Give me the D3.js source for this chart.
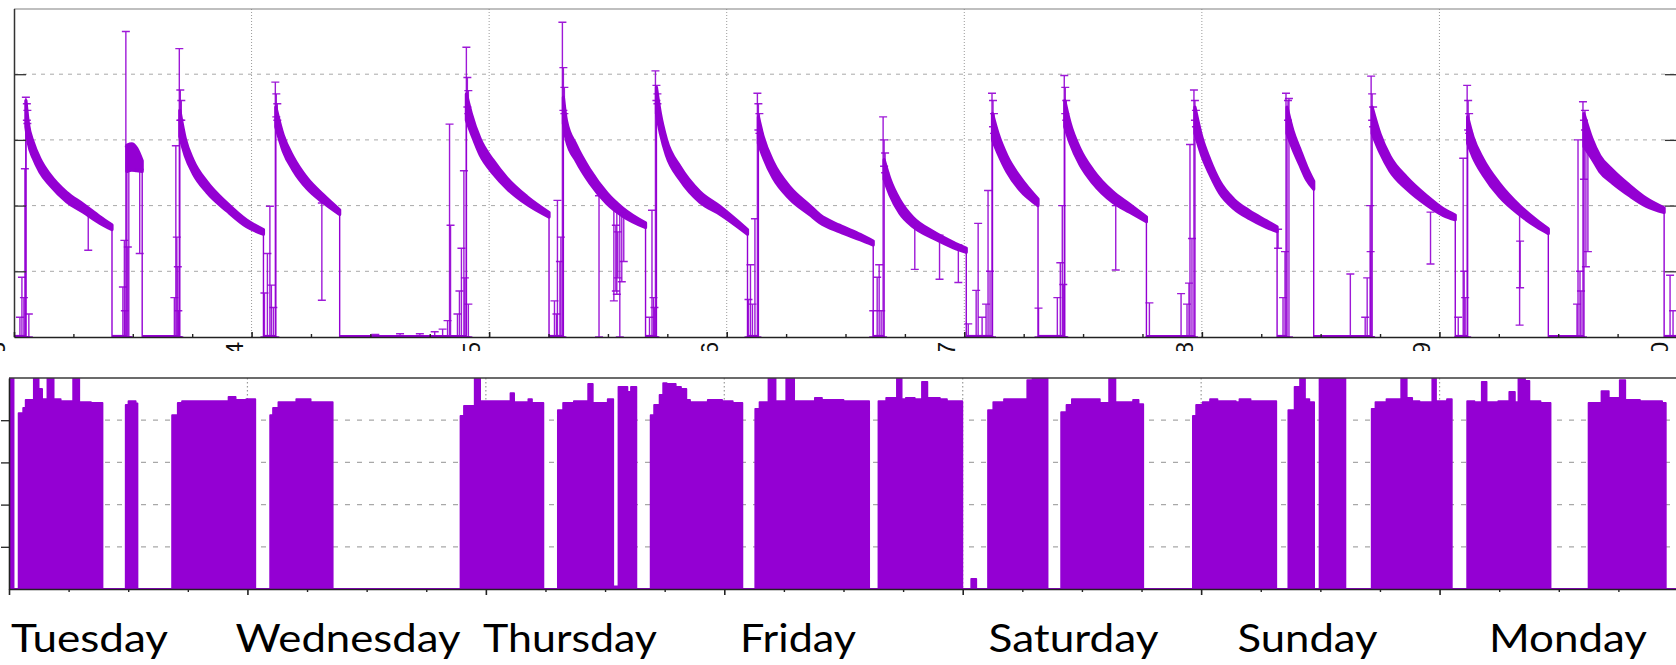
<!DOCTYPE html>
<html><head><meta charset="utf-8">
<script src="https://cdn.jsdelivr.net/npm/d3@7/dist/d3.min.js"></script>
<style>body{margin:0;background:#fff;overflow:hidden;} svg{display:block;}</style>
</head><body>
<svg id="c" width="1676" height="665"></svg>
<script>
// ---------------- DATA ----------------
// x tick labels (day of month) at each midnight, hours 0..168
const dayTickLabels = ["13","14","15","16","17","18","19","20"];
const dayNames = ["Tuesday","Wednesday","Thursday","Friday","Saturday","Sunday","Monday"];

// Top panel: decay curves, each point [hour, value, error]
const decayCurves = [
  [[1.2,3.4,0.2],[1.45,3.1,0.15],[1.95,2.84,0.12],[2.63,2.61,0.1],[3.64,2.39,0.08],[5.32,2.13,0.07],[7.0,1.96,0.06],[8.69,1.78,0.05],[9.9,1.67,0.035]],
  [[11.4,2.72,0.2],[11.9,2.74,0.2],[12.4,2.7,0.17],[12.95,2.6,0.08]],
  [[16.75,3.25,0.2],[17.3,2.89,0.13],[18.1,2.59,0.1],[19.5,2.28,0.08],[21.5,1.98,0.06],[23.5,1.73,0.05],[25.2,1.6,0.035]],
  [[26.45,3.35,0.15],[27.2,2.95,0.12],[28.2,2.64,0.1],[29.6,2.34,0.08],[31.2,2.11,0.06],[32.9,1.9,0.035]],
  [[45.7,3.5,0.2],[46.2,3.25,0.15],[47.1,2.89,0.12],[48.4,2.59,0.1],[49.8,2.34,0.08],[51.8,2.08,0.06],[54.05,1.86,0.035]],
  [[55.5,3.45,0.2],[55.8,3.15,0.15],[56.8,2.8,0.12],[58.2,2.44,0.1],[59.9,2.11,0.08],[61.5,1.9,0.06],[63.8,1.7,0.035]],
  [[64.9,3.6,0.2],[65.3,3.25,0.15],[65.9,2.89,0.12],[67.3,2.49,0.1],[69.3,2.13,0.08],[71.3,1.93,0.06],[74.1,1.6,0.035]],
  [[75.2,3.15,0.2],[75.7,2.89,0.15],[76.7,2.54,0.12],[78.4,2.19,0.09],[80.4,1.93,0.07],[81.4,1.8,0.06],[83.4,1.65,0.05],[85.5,1.52,0.04],[86.8,1.43,0.03]],
  [[87.9,2.55,0.15],[88.5,2.28,0.12],[89.5,1.98,0.1],[90.8,1.75,0.07],[92.9,1.55,0.05],[94.9,1.4,0.04],[96.2,1.32,0.03]],
  [[98.85,3.2,0.2],[99.4,2.95,0.15],[100.3,2.64,0.12],[101.6,2.34,0.1],[103.45,2.05,0.05]],
  [[106.15,3.4,0.2],[106.7,3.1,0.15],[107.7,2.74,0.12],[109.0,2.44,0.1],[111.0,2.13,0.08],[112.7,1.96,0.06],[114.4,1.79,0.035]],
  [[119.3,3.3,0.2],[120.0,2.9,0.14],[120.8,2.59,0.11],[121.8,2.28,0.09],[123.2,2.03,0.07],[124.8,1.86,0.06],[126.5,1.72,0.05],[127.6,1.64,0.035]],
  [[128.6,3.3,0.2],[129.2,3.0,0.14],[129.9,2.74,0.12],[130.6,2.49,0.1],[131.3,2.31,0.06]],
  [[137.2,3.3,0.2],[138.0,2.95,0.14],[139.0,2.64,0.11],[140.7,2.34,0.09],[142.7,2.08,0.07],[144.4,1.9,0.05],[145.6,1.82,0.035]],
  [[146.85,3.15,0.2],[147.4,2.89,0.15],[148.4,2.59,0.12],[150.1,2.23,0.1],[152.1,1.93,0.07],[153.8,1.73,0.05],[155.0,1.61,0.035]],
  [[158.6,3.15,0.25],[159.4,2.87,0.15],[160.2,2.64,0.12],[161.5,2.44,0.1],[163.2,2.23,0.08],[164.9,2.05,0.06],[166.7,1.93,0.035]]
];

// Top panel: individual error bars [hour, low, high]
const riseSpikes = [
  [1.2,0,3.65],[11.3,0,4.65],[16.7,0,4.39],[26.4,0,3.88],[44.0,0,3.24],[45.7,0,4.41],[55.4,0,4.79],
  [64.8,0,4.05],[75.1,0,3.71],[87.8,0,3.35],[98.8,0,3.71],[106.1,0,3.98],[119.2,0,3.76],[128.5,0,3.71],
  [128.8,0,3.63],[137.1,0,3.97],[146.8,0,3.83],[158.5,0,3.58]
];
const peakBars = [
  [1.3,3.3,3.55],[1.35,3.25,3.45],[16.8,3.3,3.76],[16.9,3.3,3.6],[26.5,3.35,3.7],[26.6,3.3,3.55],
  [45.8,3.5,3.95],[45.9,3.4,3.75],[55.5,3.45,4.1],[55.6,3.4,3.8],[64.9,3.6,3.83],[65.0,3.55,3.7],
  [75.2,3.15,3.55],[75.3,3.1,3.4],[87.9,2.6,3.0],[88.0,2.5,2.8],[98.9,3.2,3.6],[99.0,3.1,3.4],
  [106.2,3.4,3.8],[106.3,3.3,3.6],[119.3,3.3,3.6],[119.4,3.2,3.45],[128.7,3.3,3.6],[137.2,3.3,3.7],
  [137.3,3.2,3.5],[146.9,3.15,3.6],[147.0,3.1,3.4],[158.7,3.15,3.45],[158.6,2.4,3.3],[158.8,1.07,3.0],[159.0,1.3,2.9]
];
const noiseBars = [
  [0.6,0,0.3],[0.8,0,0.91],[1.0,0,0.6],[1.1,0,2.56],[1.5,0,0.35],
  [11.0,0,0.76],[11.15,0,1.47],[11.2,0,0.4],[11.5,0,1.37],[11.6,0,2.9],
  [16.2,0,0.6],[16.35,0,2.91],[16.45,0,1.52],[16.55,0,1.07],[16.6,0,0.4],
  [25.3,0,0.67],[25.6,0,1.27],[25.85,0,1.99],[26.0,0,0.79],[26.2,0,0.45],
  [36.5,0,0.04],[39.0,0,0.05],[41.0,0,0.05],[42.5,0,0.08],[43.3,0,0.12],[43.8,0,0.25],[44.1,0,1.7],
  [44.8,0,0.35],[45.0,0,0.7],[45.2,0,1.35],[45.45,0,2.53],[45.55,0,0.9],[45.9,0,0.5],
  [54.6,0,0.55],[54.8,0,0.35],[54.9,0,2.08],[55.15,0,1.15],[55.25,0,1.52],
  [64.2,0,0.3],[64.45,0,1.93],[64.6,0,0.6],[64.7,0,0.45],
  [74.2,0,0.57],[74.4,0,1.1],[74.6,0,0.5],[74.85,0,1.8],
  [86.8,0,0.4],[87.2,0,0.91],[87.4,0,1.1],[87.6,0,0.4],
  [96.4,0,0.2],[97.2,0,0.71],[97.4,0,1.73],[97.8,0,0.3],[98.2,0,0.5],[98.4,0,2.23],[98.6,0,1.0],
  [103.5,0,0.44],[105.4,0,0.6],[105.7,0,1.13],[105.9,0,2.0],[106.0,0,0.8],
  [114.7,0,0.52],[117.9,0,0.66],[118.5,0,0.5],[118.7,0,0.82],[118.8,0,2.93],[119.0,0,1.5],
  [127.7,1.35,1.64],[128.2,0,0.6],[128.4,0,1.3],
  [135.0,0,0.96],
  [136.5,0,0.3],[136.7,0,0.9],[137.0,0,2.0],[137.05,0,1.3],
  [145.9,0,0.3],[146.4,0,2.72],[146.5,0,1.0],[146.6,0,0.6],
  [157.9,0,0.5],[158.0,0,3.0],[158.2,0,1.0],[158.3,0,0.7],
  [167.3,0,0.94],[167.6,0,0.4]
];
const hangingBars = [
  [7.5,1.32,1.92],[12.7,1.27,2.55],[31.1,0.56,2.04],[59.1,0,2.15],[60.6,0.55,2.0],[60.8,0.7,1.7],
  [60.9,0.65,1.95],[61.0,0.9,1.6],[61.2,0,1.9],[61.4,0.84,1.9],[61.6,1.15,1.88],[91.0,1.03,1.75],
  [93.5,0.88,1.55],[95.4,0.83,1.4],[111.3,1.02,2.0],[143.1,1.11,1.9],[152.1,0.18,1.93],[152.15,0.75,1.46]
];

// Bottom panel: step series [hour, value] (value holds until next hour)
const usageSteps = [
  [0,5.3],[0.46,0],[0.97,4.17],[1.43,4.29],[1.68,4.48],[2.5,5.3],[2.98,4.74],[3.33,4.5],[3.87,5.3],[4.49,4.5],
  [5.2,4.45],[6.46,5.3],[7.07,4.43],[8.25,4.41],[9.41,0],
  [11.75,4.36],[12.03,4.45],[12.75,4.4],[12.93,0],
  [16.42,4.12],[16.99,4.41],[17.42,4.45],[22.1,4.55],[22.81,4.48],[23.89,4.5],[24.79,0],
  [26.29,4.12],[26.58,4.29],[27.12,4.43],[28.92,4.5],[30.36,4.43],[32.58,0],
  [45.45,4.1],[45.8,4.34],[46.88,5.3],[47.42,4.45],[50.48,4.64],[50.84,4.43],[52.28,4.5],[52.64,4.41],[53.79,0],
  [55.25,4.24],[55.78,4.41],[56.86,4.45],[58.3,4.86],[58.76,4.41],[60.27,4.5],[60.82,0.06],
  [61.35,4.79],[62.25,4.67],[62.61,4.79],[63.15,0],
  [64.59,4.12],[64.94,4.36],[65.49,4.6],[65.85,4.88],[66.2,4.86],[67.11,4.79],[67.64,4.74],[68.18,4.48],
  [68.55,4.43],[70.34,4.48],[71.78,4.45],[72.85,4.41],[73.82,0],
  [75.12,4.27],[75.55,4.43],[76.45,5.3],[77.16,4.45],[78.24,5.3],[79.03,4.45],[81.12,4.53],[81.83,4.48],[84.0,4.45],[86.58,0],
  [87.52,4.45],[88.3,4.53],[89.38,5.3],[89.85,4.5],[90.28,4.53],[91.17,4.5],[91.9,4.91],[92.44,4.53],[93.7,4.5],[94.41,4.45],[95.96,0],
  [96.86,0.24],[97.36,0],
  [98.55,4.24],[99.08,4.43],[100.16,4.5],[102.5,4.95],[103.03,5.3],[104.54,0],
  [105.91,4.19],[106.45,4.36],[106.99,4.5],[109.8,4.41],[110.74,5.3],[111.37,4.43],[113.15,4.48],[113.7,4.38],[114.17,0],
  [119.17,4.1],[119.5,4.36],[120.16,4.43],[120.9,4.5],[121.64,4.45],[123.49,4.43],[123.86,4.5],[124.97,4.45],[127.56,0],
  [128.78,4.24],[129.41,4.79],[129.96,5.3],[130.45,4.5],[130.89,4.43],[131.37,0],
  [131.92,5.3],[134.52,0],
  [137.17,4.27],[137.55,4.43],[138.66,4.5],[140.14,5.3],[140.69,4.53],[141.24,4.45],[141.98,4.43],[143.27,5.3],[143.64,4.45],[144.75,4.5],[145.23,0],
  [146.78,4.45],[147.51,4.43],[148.25,4.91],[148.73,4.43],[149.91,4.45],[151.02,4.67],[151.58,4.43],[151.94,5.3],[152.6,4.93],[153.04,4.45],[154.16,4.41],[155.17,0],
  [159.0,4.41],[160.3,4.69],[161.03,4.53],[162.14,4.95],[162.69,4.48],[164.17,4.45],[166.4,4.41],[166.77,0],[168,0]
];

// ---------------- DRAWING ----------------
const PURPLE = "#9400d3";
const svg = d3.select("#c");

const topX = d3.scaleLinear().domain([0,168]).range([14,1677]);
const topY = d3.scaleLinear().domain([0,5]).range([337,8.5]);
const botX = d3.scaleLinear().domain([0,168]).range([9,1678]);
const botY = d3.scaleLinear().domain([0,5]).range([589,378]);

const dayHours = d3.range(0,169,24);
const sixHours = d3.range(0,169,6).filter(h => h % 24 !== 0);

const defs = svg.append("defs");
defs.append("clipPath").attr("id","topClip").append("rect")
  .attr("x",14).attr("y",8).attr("width",1663).attr("height",330);
defs.append("clipPath").attr("id","botClip").append("rect")
  .attr("x",9).attr("y",378).attr("width",1669).attr("height",211);
defs.append("clipPath").attr("id","lblClip").append("rect")
  .attr("x",-20).attr("y",339).attr("width",1720).attr("height",12);

// ===== TOP PANEL =====
const topG = svg.append("g");
topG.append("g").selectAll("line").data([1,2,3,4]).join("line")
  .attr("x1",14).attr("x2",1677).attr("y1",d=>topY(d)).attr("y2",d=>topY(d))
  .attr("stroke","#a8a8a8").attr("stroke-width",1).attr("stroke-dasharray","4,5");
topG.append("g").selectAll("line").data(dayHours.slice(1,7)).join("line")
  .attr("x1",d=>topX(d)).attr("x2",d=>topX(d)).attr("y1",9).attr("y2",337)
  .attr("stroke","#9a9a9a").attr("stroke-width",1).attr("stroke-dasharray","1,2");
topG.append("line").attr("x1",14).attr("x2",1677).attr("y1",9).attr("y2",9)
  .attr("stroke","#808080").attr("stroke-width",1.2);

const plot = topG.append("g").attr("clip-path","url(#topClip)");

// zero segments between cycles
const zeroSegs = [];
let prevEnd = 0;
decayCurves.forEach(c => { zeroSegs.push([prevEnd, c[0][0]]); prevEnd = c[c.length-1][0]; });
zeroSegs.push([prevEnd,168]);
plot.append("g").selectAll("line").data(zeroSegs).join("line")
  .attr("x1",d=>topX(d[0])).attr("x2",d=>topX(d[1]))
  .attr("y1",topY(0)-1).attr("y2",topY(0)-1)
  .attr("stroke",PURPLE).attr("stroke-width",2.2);

// rise and drop lines
plot.append("g").selectAll("path").data(decayCurves).join("path")
  .attr("d", c => {
    const a = c[0], b = c[c.length-1];
    return `M${topX(a[0])},${topY(0)}V${topY(a[1])}M${topX(b[0])},${topY(b[1])}V${topY(0)}`;
  })
  .attr("fill","none").attr("stroke",PURPLE).attr("stroke-width",1.4);

// decay bands
const band = d3.area().curve(d3.curveMonotoneX)
  .x(d=>topX(d[0])).y0(d=>topY(d[1]-d[2])).y1(d=>topY(d[1]+d[2]));
plot.append("g").selectAll("path").data(decayCurves).join("path")
  .attr("d", band).attr("fill",PURPLE).attr("stroke",PURPLE)
  .attr("stroke-width",3.2).attr("stroke-linejoin","round");

// error bars
const ebPath = d => {
  const x = topX(d[0]), y0 = topY(d[1]), y1 = topY(d[2]);
  return `M${x-4},${y0}H${x+4}M${x},${y0}V${y1}M${x-4},${y1}H${x+4}`;
};
const allBars = riseSpikes.concat(peakBars, noiseBars, hangingBars);
plot.append("g").selectAll("path").data(allBars).join("path")
  .attr("d", ebPath).attr("fill","none").attr("stroke",PURPLE)
  .attr("stroke-width",1.4).attr("stroke-opacity",0.9);

// axes (ticks inward, no labels)
topG.append("g").attr("transform","translate(14,0)")
  .call(d3.axisLeft(topY).tickValues([1,2,3,4]).tickSize(-12).tickFormat("").tickSizeOuter(0))
  .call(g=>{g.select(".domain").attr("stroke","#333").attr("stroke-width",1.5);
            g.selectAll(".tick line").attr("stroke","#333").attr("stroke-width",1.3);});
topG.append("g").attr("transform","translate(1677,0)")
  .call(d3.axisRight(topY).tickValues([1,2,3,4]).tickSize(-12).tickFormat("").tickSizeOuter(0))
  .call(g=>{g.select(".domain").attr("stroke","#333");
            g.selectAll(".tick line").attr("stroke","#333").attr("stroke-width",1.3);});
topG.append("g").attr("transform","translate(0,337)")
  .call(d3.axisBottom(topX).tickValues(dayHours).tickSize(-5).tickFormat("").tickSizeOuter(0))
  .call(g=>{g.select(".domain").attr("stroke","#222").attr("stroke-width",1.5);
            g.selectAll(".tick line").attr("stroke","#222").attr("stroke-width",1.6);});
topG.append("g").attr("transform","translate(0,337)")
  .call(d3.axisBottom(topX).tickValues(sixHours).tickSize(-3).tickFormat("").tickSizeOuter(0))
  .call(g=>{g.select(".domain").remove();
            g.selectAll(".tick line").attr("stroke","#222").attr("stroke-width",1.4);});

// rotated (cropped) date tick labels
topG.append("g").attr("clip-path","url(#lblClip)")
  .selectAll("text").data(dayTickLabels).join("text")
  .attr("transform",(d,i)=>`translate(${topX(dayHours[i])-9},342) rotate(-90)`)
  .attr("text-anchor","end")
  .attr("font-family","Liberation Sans, Arial, sans-serif")
  .attr("font-size",24).attr("fill","#111")
  .text(d=>d);

// ===== BOTTOM PANEL =====
const botG = svg.append("g");
botG.append("g").selectAll("line").data([1,2,3,4]).join("line")
  .attr("x1",9).attr("x2",1678).attr("y1",d=>botY(d)).attr("y2",d=>botY(d))
  .attr("stroke","#a8a8a8").attr("stroke-width",1.2).attr("stroke-dasharray","5,7");
botG.append("g").selectAll("line").data(dayHours.slice(1,7)).join("line")
  .attr("x1",d=>botX(d)).attr("x2",d=>botX(d)).attr("y1",378).attr("y2",589)
  .attr("stroke","#9a9a9a").attr("stroke-width",1.2).attr("stroke-dasharray","1.5,2.5");

const usageArea = d3.area().curve(d3.curveStepAfter)
  .x(d=>botX(d[0])).y0(botY(0)).y1(d=>botY(d[1]));
const usageLine = d3.line().curve(d3.curveStepAfter)
  .x(d=>botX(d[0])).y(d=>botY(d[1]));
const bplot = botG.append("g").attr("clip-path","url(#botClip)");
bplot.append("path").datum(usageSteps).attr("d",usageArea).attr("fill",PURPLE);
bplot.append("path").datum(usageSteps).attr("d",usageLine)
  .attr("fill","none").attr("stroke",PURPLE).attr("stroke-width",1.8).attr("stroke-linejoin","round");

botG.append("line").attr("x1",9).attr("x2",1678).attr("y1",378).attr("y2",378)
  .attr("stroke","#3a3a3a").attr("stroke-width",1.4);
botG.append("g").attr("transform","translate(9,0)")
  .call(d3.axisLeft(botY).tickValues([1,2,3,4]).tickSize(8).tickFormat("").tickSizeOuter(0))
  .call(g=>{g.select(".domain").attr("stroke","#222").attr("stroke-width",1.6);
            g.selectAll(".tick line").attr("stroke","#222").attr("stroke-width",1.3);});
botG.append("g").attr("transform","translate(0,589)")
  .call(d3.axisBottom(botX).tickValues(dayHours).tickSize(6).tickFormat("").tickSizeOuter(0))
  .call(g=>{g.select(".domain").attr("stroke","#222").attr("stroke-width",1.6);
            g.selectAll(".tick line").attr("stroke","#222").attr("stroke-width",1.6);});
botG.append("g").attr("transform","translate(0,589)")
  .call(d3.axisBottom(botX).tickValues(sixHours).tickSize(3).tickFormat("").tickSizeOuter(0))
  .call(g=>{g.select(".domain").remove();
            g.selectAll(".tick line").attr("stroke","#222").attr("stroke-width",1.4);});

// day names
const dayLabelCenters = [89.5, 348, 570, 798, 1073.5, 1307.5, 1568];
const dayLabelWidths  = [157, 225, 174, 116, 170, 140, 158];
svg.append("g").selectAll("text").data(dayNames).join("text")
  .attr("x",(d,i)=>dayLabelCenters[i]).attr("y",652)
  .attr("text-anchor","middle")
  .attr("font-family","Lato, 'Open Sans', sans-serif")
  .attr("font-size",38).attr("fill","#000")
  .attr("textLength",(d,i)=>dayLabelWidths[i]).attr("lengthAdjust","spacingAndGlyphs")
  .text(d=>d);
</script>
</body></html>
